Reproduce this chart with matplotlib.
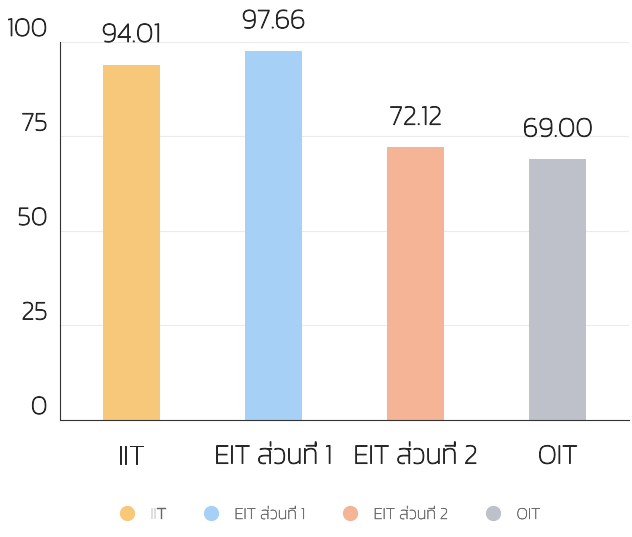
import matplotlib
matplotlib.use('Agg')
import matplotlib.pyplot as plt
import matplotlib.transforms as mtransforms
import matplotlib.patheffects as pe
from matplotlib.lines import Line2D

# scores per test
categories = ['IIT', 'EIT ส่วนที่ 1', 'EIT ส่วนที่ 2', 'OIT']
scores = [94.01, 97.66, 72.12, 69.00]
bar_colors = ['#F8C87A', '#A6D0F6', '#F5B496', '#BEC1C9']
yticks = [0, 25, 50, 75, 100]

plt.rcParams['font.family'] = ['Kanit', 'DejaVu Sans']
plt.rcParams['font.weight'] = 'light'

text_color = '#262626'
# a thin outline gives a weight between Kanit Light and Regular
thicker = [pe.withStroke(linewidth=0.7, foreground=text_color)]

fig = plt.figure(figsize=(6.32, 5.37), dpi=100)
ax = fig.add_axes([0.095, 0.218, 0.9, 0.704])

x = range(len(categories))
ax.bar(x, scores, width=0.4, color=bar_colors, zorder=2)

# value labels above each bar
for xi, s in zip(x, scores):
    ax.annotate(f'{s:.2f}', (xi, s), xytext=(0, 12), textcoords='offset points',
                ha='center', va='bottom', fontsize=20, color=text_color,
                annotation_clip=False, path_effects=thicker)

ax.set_xlim(-0.5, 3.5)
ax.set_ylim(0, 100)
ax.set_xticks(list(x))
ax.set_xticklabels(categories, fontsize=20, color=text_color, path_effects=thicker)
ax.set_yticks(yticks)
ax.set_yticklabels([str(t) for t in yticks], fontsize=19, color=text_color,
                   path_effects=thicker)
ax.tick_params(axis='both', length=0)
ax.tick_params(axis='x', pad=17)
ax.tick_params(axis='y', pad=9)

# y tick labels sit above their grid lines
offset = mtransforms.ScaledTranslation(0, 15 / 100, fig.dpi_scale_trans)
for lab in ax.get_yticklabels():
    lab.set_transform(lab.get_transform() + offset)

ax.yaxis.grid(True, color='#ebebeb', linewidth=0.8, zorder=0)
ax.set_axisbelow(True)
for side in ['top', 'right']:
    ax.spines[side].set_visible(False)
ax.spines['left'].set_color('#333333')
ax.spines['bottom'].set_color('#333333')

handles = [Line2D([], [], marker='o', linestyle='none', markersize=10,
                  markerfacecolor=c, markeredgecolor=c) for c in bar_colors]
leg = fig.legend(handles, categories, loc='lower center', bbox_to_anchor=(0.515, 0.0),
                 ncol=4, frameon=False, prop={'size': 12, 'weight': 'light'},
                 labelcolor='#666666', handletextpad=0.4, columnspacing=1.7)
for t in leg.get_texts():
    t.set_path_effects([pe.withStroke(linewidth=0.3, foreground='#666666')])

fig.savefig('out.png', dpi=100)
